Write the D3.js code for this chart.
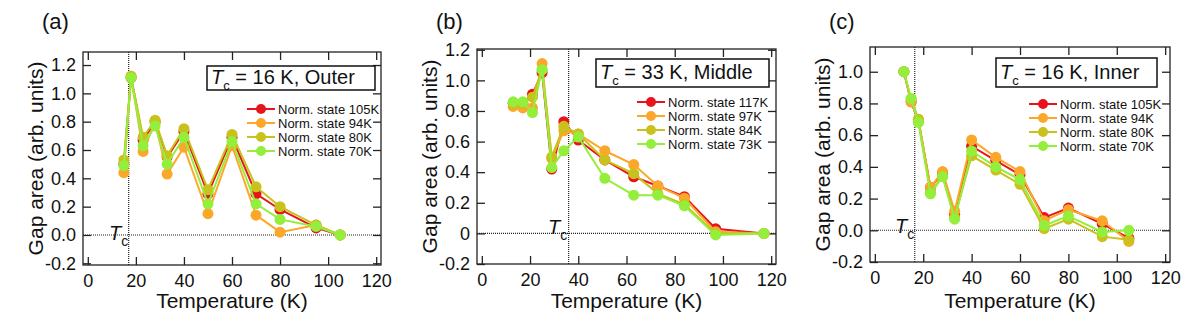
<!DOCTYPE html>
<html>
<head>
<meta charset="utf-8">
<script src="https://cdn.jsdelivr.net/npm/d3@7"></script>
<style>
  body { margin: 0; background: #fff; }
  svg text { font-family: "Liberation Sans", Arial, sans-serif; fill: #111; }
  .axis path { display: none; }
  .axis line { stroke: #222; stroke-width: 1.3; }
</style>
</head>
<body>
<svg id="chart" width="1190" height="317"></svg>
<script>
'use strict';

// ---- data ----
const xTicks = [0, 20, 40, 60, 80, 100, 120];
const yTicksAC = [-0.2, 0, 0.2, 0.4, 0.6, 0.8, 1.0, 1.2];
const yTicksB = [-0.2, 0, 0.2, 0.4, 0.6, 0.8, 1.0, 1.2];
const yTicksC = [-0.2, 0, 0.2, 0.4, 0.6, 0.8, 1.0];

const namesA = ['Norm. state 105K', 'Norm. state 94K', 'Norm. state 80K', 'Norm. state 70K'];
const namesB = ['Norm. state 117K', 'Norm. state 97K', 'Norm. state 84K', 'Norm. state 73K'];
const namesC = ['Norm. state 105K', 'Norm. state 94K', 'Norm. state 80K', 'Norm. state 70K'];

const tempsA = [15, 18, 23, 28, 33, 40, 50, 60, 70, 80, 95, 105];
const a105 = [0.50, 1.11, 0.67, 0.80, 0.55, 0.73, 0.29, 0.69, 0.29, 0.18, 0.05, 0];
const a94  = [0.44, 1.12, 0.59, 0.80, 0.43, 0.62, 0.15, 0.63, 0.14, 0.02, 0.07, 0];
const a80  = [0.53, 1.12, 0.69, 0.81, 0.56, 0.75, 0.32, 0.71, 0.34, 0.20, 0.07, 0];
const a70  = [0.49, 1.11, 0.63, 0.77, 0.50, 0.69, 0.22, 0.66, 0.22, 0.11, 0.06, 0];

const tempsB = [13, 17, 21, 25, 29, 34, 40, 51, 63, 73, 84, 97, 117];
const b117 = [0.85, 0.85, 0.91, 1.05, 0.42, 0.73, 0.61, 0.48, 0.37, 0.31, 0.24, 0.03, 0];
const b97  = [0.83, 0.82, 0.82, 1.11, 0.49, 0.67, 0.65, 0.54, 0.45, 0.31, 0.23, 0.01, 0];
const b84  = [0.85, 0.85, 0.89, 1.07, 0.50, 0.70, 0.65, 0.48, 0.39, 0.26, 0.19, 0.00, 0];
const b73  = [0.86, 0.86, 0.79, 1.07, 0.43, 0.54, 0.63, 0.36, 0.25, 0.25, 0.18, -0.01, 0];

const tempsC = [12, 15, 18, 23, 28, 33, 40, 50, 60, 70, 80, 94, 105];
const c105 = [1.0, 0.81, 0.69, 0.27, 0.36, 0.10, 0.53, 0.44, 0.35, 0.08, 0.14, 0.04, -0.05];
const c94  = [1.0, 0.81, 0.70, 0.27, 0.37, 0.12, 0.57, 0.46, 0.37, 0.06, 0.13, 0.06, -0.07];
const c80  = [1.0, 0.83, 0.70, 0.24, 0.34, 0.08, 0.47, 0.38, 0.29, 0.01, 0.07, -0.04, -0.06];
const c70  = [1.0, 0.83, 0.68, 0.23, 0.34, 0.07, 0.50, 0.40, 0.32, 0.03, 0.09, -0.01, 0.0];

// Tc marker positions (where the dotted lines sit) and box captions
const tcLines = [17, 36, 16.5];
const captions = ['16 K, Outer', '33 K, Middle', '16 K, Inner'];
const tags = ['(a)', '(b)', '(c)'];

const colors = ['#e8141c', '#fba82a', '#c9c21c', '#94ee3c'];

// ---- layout (pixels) ----
const panels = [
  { left: 83,  top: 52, right: 381,  bottom: 265, yDomain: [-0.212, 1.292], yTicks: yTicksAC, zeroLabel: '0.0',
    temps: tempsA, series: [a105, a94, a80, a70], names: namesA,
    box: [207, 66, 168, 24], legend: { x: 247, y: 109 }, tcLabel: [109, 240] },
  { left: 477, top: 49, right: 776,  bottom: 264, yDomain: [-0.2, 1.205], yTicks: yTicksB, zeroLabel: '0',
    temps: tempsB, series: [b117, b97, b84, b73], names: namesB,
    box: [596, 59, 173, 28], legend: { x: 637, y: 102 }, tcLabel: [548, 234] },
  { left: 870, top: 47, right: 1170, bottom: 262, yDomain: [-0.2, 1.156], yTicks: yTicksC, zeroLabel: '0.0',
    temps: tempsC, series: [c105, c94, c80, c70], names: namesC,
    box: [996, 58, 161, 29], legend: { x: 1029, y: 104 }, tcLabel: [895, 233] }
];

const svg = d3.select('#chart');
const tickLen = 8;

panels.forEach(function(p, i){
  let x = d3.scaleLinear().domain([-2, 122]).range([p.left, p.right]);
  let y = d3.scaleLinear().domain(p.yDomain).range([p.bottom, p.top]);
  let g = svg.append('g');
  let yFmt = function(d){ return Math.abs(d) < 1e-9 ? p.zeroLabel : d.toFixed(1); };

  // dotted zero line and Tc line
  g.append('line')
    .attr('x1', p.left).attr('x2', p.right)
    .attr('y1', y(0)).attr('y2', y(0))
    .attr('stroke', '#222').attr('stroke-width', 1.1).attr('stroke-dasharray', '1,1');
  g.append('line')
    .attr('x1', x(tcLines[i])).attr('x2', x(tcLines[i]))
    .attr('y1', p.top).attr('y2', p.bottom)
    .attr('stroke', '#222').attr('stroke-width', 1.2).attr('stroke-dasharray', '1,1');

  // axes, ticks inside on all four sides
  g.append('g').attr('class', 'axis')
    .attr('transform', 'translate(0,' + p.bottom + ')')
    .call(d3.axisBottom(x).tickValues(xTicks).tickSizeInner(-tickLen).tickSizeOuter(0).tickPadding(9))
    .selectAll('text').style('font-size', '18px');
  g.append('g').attr('class', 'axis')
    .attr('transform', 'translate(0,' + p.top + ')')
    .call(d3.axisTop(x).tickValues(xTicks).tickSizeInner(-tickLen).tickSizeOuter(0).tickFormat(''));
  g.append('g').attr('class', 'axis')
    .attr('transform', 'translate(' + p.left + ',0)')
    .call(d3.axisLeft(y).tickValues(p.yTicks).tickSizeInner(-tickLen).tickSizeOuter(0).tickPadding(7).tickFormat(yFmt))
    .selectAll('text').style('font-size', '18px');
  g.append('g').attr('class', 'axis')
    .attr('transform', 'translate(' + p.right + ',0)')
    .call(d3.axisRight(y).tickValues(p.yTicks).tickSizeInner(-tickLen).tickSizeOuter(0).tickFormat(''));

  // frame
  g.append('rect')
    .attr('x', p.left).attr('y', p.top)
    .attr('width', p.right - p.left).attr('height', p.bottom - p.top)
    .attr('fill', 'none').attr('stroke', '#222').attr('stroke-width', 1.3);

  // series
  let line = d3.line().x(function(d){ return x(d[0]); }).y(function(d){ return y(d[1]); });
  p.series.forEach(function(vals, k){
    let pts = p.temps.map(function(t, j){ return [t, vals[j]]; });
    g.append('path').datum(pts)
      .attr('d', line).attr('fill', 'none')
      .attr('stroke', colors[k]).attr('stroke-width', 2);
    g.selectAll('.m' + k).data(pts).enter().append('circle')
      .attr('class', 'm' + k)
      .attr('cx', function(d){ return x(d[0]); })
      .attr('cy', function(d){ return y(d[1]); })
      .attr('r', 5.5).attr('fill', colors[k]);
  });

  // Tc label
  let tl = g.append('text').attr('x', p.tcLabel[0]).attr('y', p.tcLabel[1]).style('font-size', '20px');
  tl.append('tspan').style('font-style', 'italic').text('T');
  tl.append('tspan').attr('dy', 6).style('font-size', '14px').text('c');

  // caption box
  g.append('rect')
    .attr('x', p.box[0]).attr('y', p.box[1]).attr('width', p.box[2]).attr('height', p.box[3])
    .attr('fill', '#fff').attr('stroke', '#111').attr('stroke-width', 1.5);
  let ct = g.append('text')
    .attr('x', p.box[0] + 4).attr('y', p.box[1] + p.box[3] / 2 + 6)
    .style('font-size', '20px');
  ct.append('tspan').style('font-style', 'italic').text('T');
  ct.append('tspan').attr('dy', 6).style('font-size', '13px').text('c');
  ct.append('tspan').attr('dy', -6).text(' = ' + captions[i]);

  // legend
  p.names.forEach(function(name, k){
    let ly = p.legend.y + k * 14;
    g.append('line')
      .attr('x1', p.legend.x).attr('x2', p.legend.x + 28)
      .attr('y1', ly).attr('y2', ly)
      .attr('stroke', colors[k]).attr('stroke-width', 2);
    g.append('circle')
      .attr('cx', p.legend.x + 14).attr('cy', ly).attr('r', 5).attr('fill', colors[k]);
    g.append('text')
      .attr('x', p.legend.x + 31).attr('y', ly + 5)
      .style('font-size', '13px').text(name);
  });

  // axis titles
  g.append('text')
    .attr('text-anchor', 'middle')
    .attr('x', (p.left + p.right) / 2).attr('y', 308)
    .style('font-size', '21px').text('Temperature (K)');
  g.append('text')
    .attr('text-anchor', 'middle')
    .attr('transform', 'translate(' + (p.left - 40) + ',' + ((p.top + p.bottom) / 2) + ')rotate(-90)')
    .style('font-size', '21px').text('Gap area (arb. units)');

  // panel tag
  g.append('text')
    .attr('x', p.left - 41).attr('y', 29)
    .style('font-size', '22px').text(tags[i]);
});
</script>
</body>
</html>
